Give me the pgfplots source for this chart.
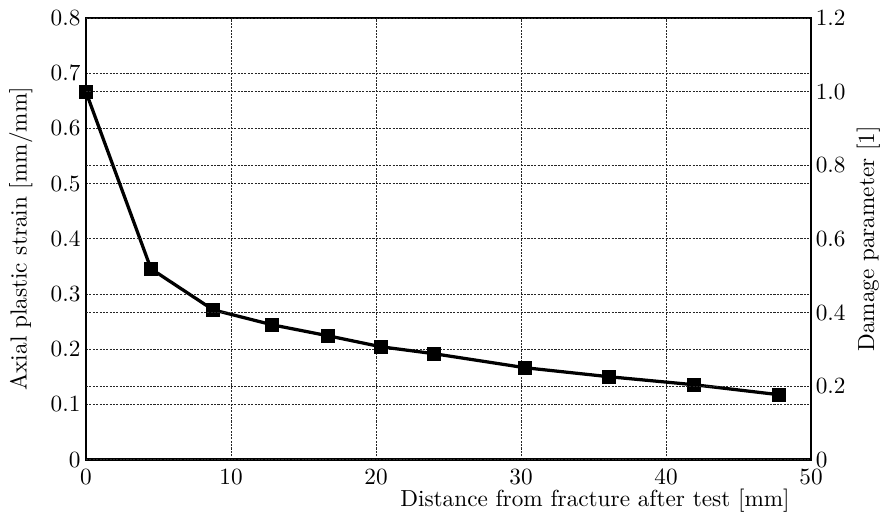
\documentclass[border=0pt]{standalone}
\usepackage{pgfplots}
\pgfplotsset{compat=1.18}
\begin{document}
\begin{tikzpicture}
\pgfplotsset{mygrid/.style={major grid style={dash pattern=on 0.9pt off 0.55pt, black!85, line width=0.4pt}}}
\begin{axis}[
  scale only axis, width=312pt, height=190pt,
  xmin=0, xmax=50, ymin=0, ymax=0.8,
  axis lines=box,
  axis line style={line width=1.1pt},
  xtick={0,10,...,50},
  xticklabel style={anchor=north, inner sep=0pt, yshift=-4.2pt},
  ytick={0,0.1,...,0.8},
  yticklabels={0,0.1,0.2,0.3,0.4,0.5,0.6,0.7,0.8},
  yticklabel style={anchor=east, inner sep=0pt, xshift=-2.2pt},
  major tick length=0pt,
  grid=major, mygrid,
  ylabel={Axial plastic strain [mm/mm]},
  ylabel style={at={(axis description cs:-0.0898,0.5)}, anchor=center, inner sep=4pt},
  xlabel={Distance from fracture after test [mm]},
  xlabel style={at={(axis description cs:1,0)}, anchor=north east, inner xsep=0pt, inner ysep=1.2pt, yshift=-11.2pt, xshift=-9pt},
  clip=false,
]
\addplot[black, line width=1.4pt, mark=square*, mark size=2.35pt] coordinates {
(0,0.666) (4.48,0.3457) (8.76,0.2715) (12.83,0.2443) (16.69,0.2244)
(20.34,0.2045) (24.0,0.1919) (30.28,0.1665) (36.07,0.1502) (41.93,0.1357) (47.79,0.1176)
};
\path (axis description cs:0.5,1.041);
\end{axis}
\begin{axis}[
  scale only axis, width=312pt, height=190pt,
  xmin=0, xmax=50, ymin=0, ymax=1.2,
  axis y line*=right, axis x line=none,
  axis line style={line width=1.1pt},
  ytick={0,0.2,...,1.2},
  yticklabels={0,0.2,0.4,0.6,0.8,1.0,1.2},
  yticklabel style={anchor=west, inner sep=0pt, xshift=1.8pt},
  major tick length=0pt,
  ymajorgrids, mygrid,
  ylabel={Damage parameter [1]},
  ylabel style={at={(axis description cs:1.079,0.5)}, anchor=center, inner sep=0pt},
]
\end{axis}
\end{tikzpicture}
\end{document}
